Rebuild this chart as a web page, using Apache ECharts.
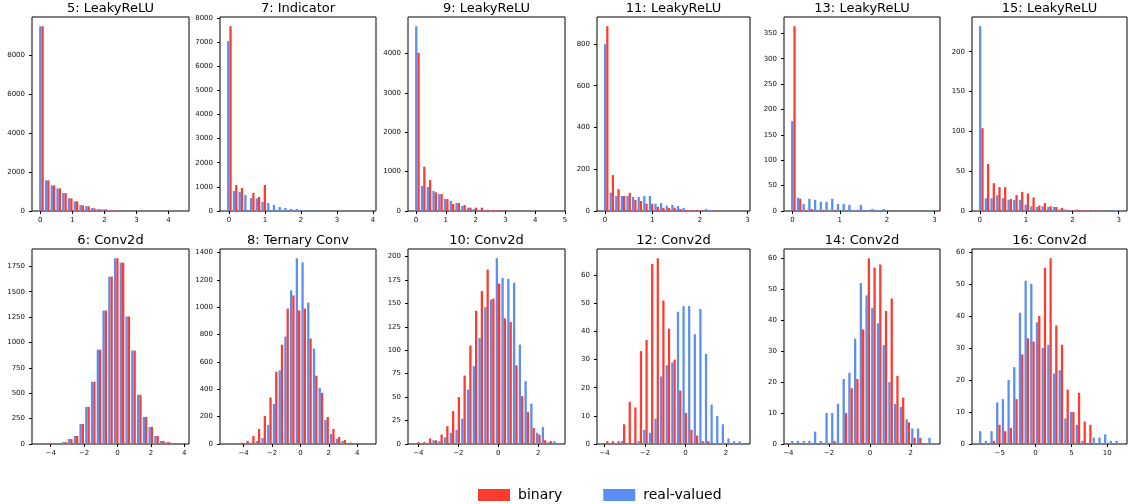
<!DOCTYPE html>
<html>
<head>
<meta charset="utf-8">
<script src="https://cdn.jsdelivr.net/npm/echarts@6/dist/echarts.min.js"></script>
<style>
  html, body { margin: 0; padding: 0; background: #fff; }
  #chart { width: 1128px; height: 504px; }
</style>
</head>
<body>
<div id="chart"></div>
<script>
// activation histograms, 25 bins each; blue = real-valued, red = binary
var titles = ['5: LeakyReLU', '7: Indicator', '9: LeakyReLU', '11: LeakyReLU', '13: LeakyReLU', '15: LeakyReLU',
              '6: Conv2d', '8: Ternary Conv', '10: Conv2d', '12: Conv2d', '14: Conv2d', '16: Conv2d'];

// data range of each histogram (first / last bin edge)
var binLo = [-0.055, -0.069, -0.049, -0.033, -0.040, -0.028, -4.73, -5.20, -4.19, -4.057, -3.891, -7.965];
var binHi = [4.436, 3.90, 4.78, 2.92, 2.98, 3.04, 3.89, 4.86, 3.01, 2.868, 3.11, 11.86];

var real5  = [9470, 1570, 1314, 1160, 921, 650, 495, 307, 256, 154, 100, 85, 50, 20, 10, 5, 3, 2, 1, 1, 1, 0, 0, 0, 1];
var binary5 = [9470, 1570, 1314, 1160, 921, 650, 495, 290, 240, 137, 85, 85, 40, 20, 10, 5, 3, 2, 1, 1, 0, 0, 0, 0, 1];

var real7  = [7033, 827, 786, 662, 540, 524, 372, 331, 248, 165, 124, 83, 80, 45, 40, 15, 8, 5, 3, 2, 1, 1, 1, 0, 1];
var binary7 = [7653, 1076, 951, 0, 750, 579, 1076, 0, 0, 0, 0, 0, 0, 0, 0, 0, 0, 0, 0, 0, 0, 0, 0, 0, 0];

var real9  = [4694, 634, 609, 510, 431, 304, 254, 203, 127, 85, 50, 30, 30, 20, 10, 8, 5, 3, 2, 1, 1, 0, 0, 0, 1];
var binary9 = [4017, 1125, 786, 474, 431, 304, 178, 203, 152, 85, 85, 85, 30, 25, 25, 10, 5, 3, 2, 1, 0, 0, 0, 0, 1];

var real11  = [799, 88, 72, 72, 72, 67, 67, 72, 72, 35, 38, 26, 29, 24, 15, 5, 5, 3, 10, 5, 0, 0, 0, 0, 1];
var binary11 = [885, 172, 105, 72, 87, 53, 48, 35, 35, 20, 15, 15, 16, 10, 5, 5, 5, 3, 1, 0, 0, 0, 0, 0, 0];

var real13  = [177, 26, 14, 24, 22, 18, 18, 24, 14, 14, 12, 2, 12, 2, 4, 2, 4, 0, 0, 0, 0, 0, 0, 0, 1];
var binary13 = [364, 24, 2, 4, 0, 2, 0, 2, 0, 0, 0, 0, 0, 0, 0, 0, 0, 0, 0, 0, 0, 0, 0, 0, 0];

var real15  = [232, 16, 16, 20, 16, 14, 14, 14, 8, 6, 5, 6, 5, 5, 2, 2, 1, 2, 1, 0, 1, 0, 0, 1, 1];
var binary15 = [104, 59, 35, 30, 30, 15, 20, 24, 22, 17, 7, 10, 6, 5, 4, 1, 1, 1, 1, 1, 1, 0, 0, 0, 0];

var real6  = [0, 1, 2, 5, 20, 49, 79, 198, 366, 613, 929, 1315, 1648, 1829, 1786, 1256, 920, 485, 267, 168, 79, 30, 18, 3, 1];
var binary6 = [1, 1, 2, 5, 20, 49, 79, 198, 366, 613, 929, 1315, 1648, 1829, 1786, 1256, 920, 485, 267, 168, 79, 30, 18, 3, 1];

var real8  = [1, 1, 2, 8, 10, 22, 44, 140, 294, 539, 786, 1124, 1359, 1329, 1035, 698, 411, 176, 73, 37, 22, 5, 2, 1, 1];
var binary8 = [1, 2, 10, 22, 59, 110, 206, 340, 529, 727, 991, 1087, 977, 991, 771, 499, 375, 198, 110, 51, 29, 10, 3, 1, 1];

var real10  = [0, 0, 1, 4, 3, 7, 12, 15, 27, 58, 83, 113, 146, 154, 198, 177, 176, 172, 106, 67, 43, 12, 18, 2, 3];
var binary10 = [2, 2, 6, 4, 10, 19, 35, 50, 73, 105, 142, 163, 186, 155, 171, 134, 130, 84, 51, 34, 17, 10, 4, 3, 1];

var real12  = [0, 0, 0, 1, 0, 0, 1, 5, 4, 9, 24, 28, 29, 47, 49, 49, 39, 48, 32, 14, 10, 7, 2, 1, 1];
var binary12 = [1, 1, 1, 7, 15, 13, 33, 37, 64, 66, 51, 41, 30, 19, 11, 5, 3, 1, 1, 0, 0, 0, 0, 0, 0];

var real14  = [1, 1, 1, 1, 4, 1, 10, 10, 13, 21, 23, 34, 52, 48, 44, 39, 32, 20, 13, 12, 8, 5, 5, 0, 2];
var binary14 = [0, 0, 0, 0, 0, 0, 0, 1, 0, 10, 18, 21, 37, 60, 57, 58, 43, 47, 22, 15, 7, 2, 2, 0, 0];

var real16  = [4, 1, 4, 13, 14, 20, 24, 41, 51, 50, 38, 30, 31, 22, 23, 8, 10, 6, 1, 0, 2, 2, 3, 1, 1];
var binary16 = [0, 0, 1, 6, 4, 5, 14, 28, 33, 32, 40, 55, 58, 37, 31, 17, 10, 16, 7, 6, 0, 0, 0, 0, 0];

var realCounts = [real5, real7, real9, real11, real13, real15, real6, real8, real10, real12, real14, real16];
var binaryCounts = [binary5, binary7, binary9, binary11, binary13, binary15, binary6, binary8, binary10, binary12, binary14, binary16];

var xTicks = [[0, 1, 2, 3, 4], [0, 1, 2, 3, 4], [0, 1, 2, 3, 4, 5], [0, 1, 2, 3], [0, 1, 2, 3], [0, 1, 2, 3],
              [-4, -2, 0, 2, 4], [-4, -2, 0, 2, 4], [-4, -2, 0, 2], [-4, -2, 0, 2], [-4, -2, 0, 2], [-5, 0, 5, 10]];
var yTicks = [[0, 2000, 4000, 6000, 8000], [0, 1000, 2000, 3000, 4000, 5000, 6000, 7000, 8000],
              [0, 1000, 2000, 3000, 4000], [0, 200, 400, 600, 800], [0, 50, 100, 150, 200, 250, 300, 350],
              [0, 50, 100, 150, 200], [0, 250, 500, 750, 1000, 1250, 1500, 1750],
              [0, 200, 400, 600, 800, 1000, 1200, 1400], [0, 25, 50, 75, 100, 125, 150, 175, 200],
              [0, 10, 20, 30, 40, 50, 60], [0, 10, 20, 30, 40, 50, 60], [0, 10, 20, 30, 40, 50, 60]];

var RED = '#ff3b30', BLUE = '#5a8ef0';
var FONT = 'DejaVu Sans';
var NBINS = 25;

var colLeft = [32, 220, 408, 597, 784, 972];
var colWidth = [157, 156, 157, 153, 156, 155];
var rowTop = [17, 249];
var rowHeight = [194, 195];
var titleTop = [2, 234];

var chart = echarts.init(document.getElementById('chart'));

var grids = [], xAxes = [], yAxes = [], series = [], titleList = [];

function plainLabel(v) {
  return String(v).replace('-', '\u2212');
}

titles.forEach(function (t, i) {
  var col = i % 6, row = Math.floor(i / 6);
  var lo = binLo[i], hi = binHi[i];
  var w = (hi - lo) / NBINS;
  // matplotlib style auto limits: 5% margin around the bars
  var L = lo + 0.1 * w, R = hi - 0.1 * w;
  var pad = 0.05 * (R - L);
  var realData = [], binData = [];
  for (var k = 0; k < NBINS; k++) {
    var c = lo + (k + 0.5) * w;
    realData.push([c, realCounts[i][k]]);
    binData.push([c, binaryCounts[i][k]]);
  }
  var yMax = 1.05 * Math.max(Math.max.apply(null, realCounts[i]), Math.max.apply(null, binaryCounts[i]));

  grids.push({
    left: colLeft[col], top: rowTop[row], width: colWidth[col], height: rowHeight[row],
    show: true, borderColor: '#000', borderWidth: 1, backgroundColor: '#fff'
  });
  titleList.push({
    text: t, left: colLeft[col] + colWidth[col] / 2, top: titleTop[row], textAlign: 'center', padding: 0,
    textStyle: { fontFamily: FONT, fontSize: 13, fontWeight: 'normal', color: '#000' }
  });
  xAxes.push({
    type: 'value', gridIndex: i, min: L - pad, max: R + pad,
    splitLine: { show: false }, axisLine: { show: false, onZero: false },
    axisTick: { show: true, inside: false, length: 3, lineStyle: { color: '#000' }, customValues: xTicks[i] },
    axisLabel: { customValues: xTicks[i], fontSize: 7, fontFamily: FONT, color: '#111', margin: 6, formatter: plainLabel }
  });
  yAxes.push({
    type: 'value', gridIndex: i, min: 0, max: yMax,
    splitLine: { show: false }, axisLine: { show: false, onZero: false },
    axisTick: { show: true, inside: false, length: 3, lineStyle: { color: '#000' }, customValues: yTicks[i] },
    axisLabel: { customValues: yTicks[i], fontSize: 7, fontFamily: FONT, color: '#111', margin: 7, formatter: plainLabel }
  });
  series.push({
    name: 'real-valued', type: 'bar', xAxisIndex: i, yAxisIndex: i, data: realData,
    itemStyle: { color: BLUE }, barGap: '0%', barCategoryGap: '20%'
  });
  series.push({
    name: 'binary', type: 'bar', xAxisIndex: i, yAxisIndex: i, data: binData,
    itemStyle: { color: RED }, barGap: '0%', barCategoryGap: '20%'
  });
});

chart.setOption({
  animation: false,
  backgroundColor: '#fff',
  title: titleList,
  legend: {
    data: ['binary', 'real-valued'],
    left: 478, top: 488, padding: 0, itemWidth: 32, itemHeight: 12, itemGap: 41, icon: 'rect',
    textStyle: { fontFamily: FONT, fontSize: 14, color: '#000', padding: [0, 0, 0, 3] }
  },
  grid: grids,
  xAxis: xAxes,
  yAxis: yAxes,
  series: series
});
</script>
</body>
</html>
